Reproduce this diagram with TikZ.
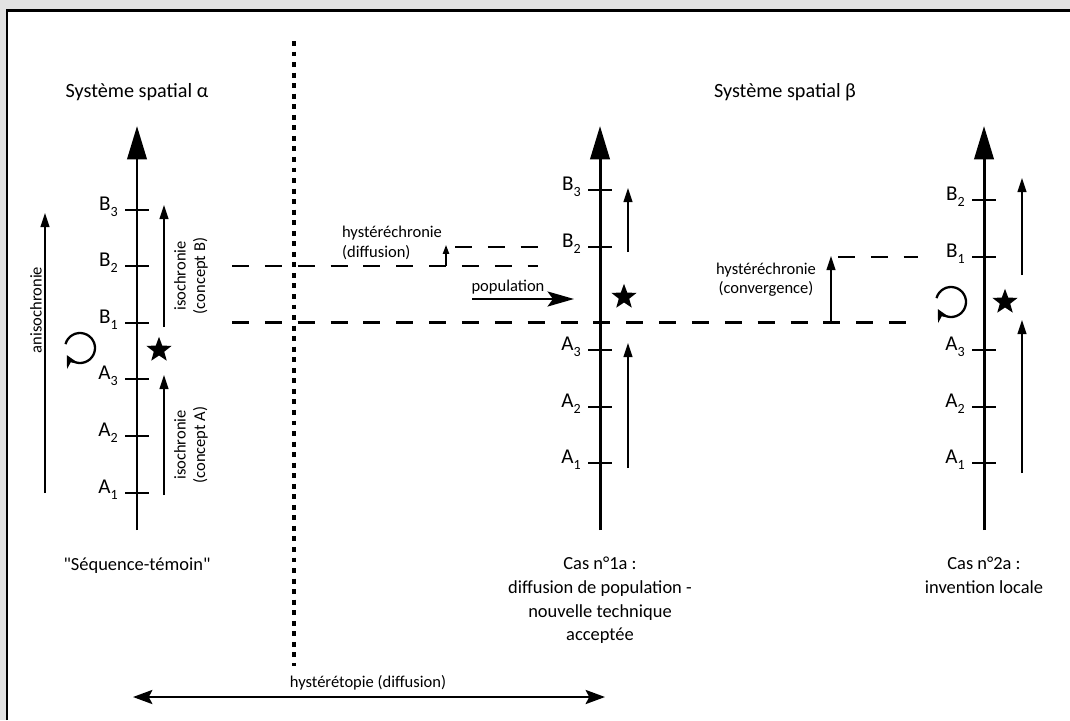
\documentclass[tikz,border=0pt]{standalone}
\usepackage{fontspec}
\setmainfont{Carlito}[Ligatures=TeXOff]
\usetikzlibrary{arrows.meta,shapes.geometric}
\definecolor{bgrey}{RGB}{226,226,226}
\newcommand{\ind}[1]{\raisebox{-3.5pt}{\fontsize{8}{9}\selectfont#1}}

\begin{document}
\begin{tikzpicture}[x=0.02cm,y=-0.02cm,
  axis/.style={line width=1.7pt,-{Triangle[length=19pt,width=11pt]}},
  tick/.style={line width=1.6pt},
  lab/.style={anchor=base east,inner sep=0pt,font=\fontsize{12}{14}\selectfont},
  thinarrow/.style={line width=1pt,-{Triangle[length=8pt,width=5pt]}},
  dashline/.style={line width=1.7pt,dash pattern=on 9.7pt off 9pt},
  note/.style={font=\fontsize{9.4}{11}\selectfont,align=center,inner sep=0pt},
  title/.style={font=\fontsize{11.5}{14}\selectfont,inner sep=0pt},
  caption/.style={font=\fontsize{10.5}{13.4}\selectfont,align=center,anchor=north,inner sep=0pt},
  etoile/.style={star,star points=5,star point ratio=2.4,fill=black,minimum size=15pt,inner sep=0pt},
  boucle/.style={line width=1.3pt,-{Stealth[length=7pt,width=7pt]}}]
\useasboundingbox (0,0) rectangle (1070,720);
% frame
\fill[bgrey] (0,0) rectangle (1070,720);
\fill[white] (7,10.5) rectangle (1070,720);
\draw[line width=1.4pt] (7,720) -- (7,10.5) -- (1070,10.5);

% titles
\node[title] (alpha) at (137,92) {Système spatial α};
\node[title] (beta) at (785,92) {Système spatial β};

% axes
\coordinate (ax1b) at (137,530); \coordinate (ax1t) at (137,126);
\coordinate (ax2b) at (600,530); \coordinate (ax2t) at (600,126);
\coordinate (ax3b) at (984,530); \coordinate (ax3t) at (984,126);
\draw[axis] (ax1b) -- (ax1t);
\draw[axis] (ax2b) -- (ax2t);
\draw[axis] (ax3b) -- (ax3t);

% ticks, sequence-temoin
\draw[tick] (125,210) -- (149,210); \node[lab] (tB3) at (118,210) {B\ind{3}};
\draw[tick] (125,266) -- (149,266); \node[lab] (tB2) at (118,266) {B\ind{2}};
\draw[tick] (125,323) -- (149,323); \node[lab] (tB1) at (118,323) {B\ind{1}};
\draw[tick] (125,379) -- (149,379); \node[lab] (tA3) at (118,379) {A\ind{3}};
\draw[tick] (125,436) -- (149,436); \node[lab] (tA2) at (118,436) {A\ind{2}};
\draw[tick] (125,493) -- (149,493); \node[lab] (tA1) at (118,493) {A\ind{1}};

% ticks, cas 1a
\draw[tick] (588,190) -- (612,190); \node[lab] (pB3) at (581,190) {B\ind{3}};
\draw[tick] (588,247) -- (612,247); \node[lab] (pB2) at (581,247) {B\ind{2}};
\draw[tick] (588,350) -- (612,350); \node[lab] (pA3) at (581,350) {A\ind{3}};
\draw[tick] (588,407) -- (612,407); \node[lab] (pA2) at (581,407) {A\ind{2}};
\draw[tick] (588,463) -- (612,463); \node[lab] (pA1) at (581,463) {A\ind{1}};

% ticks, cas 2a
\draw[tick] (972,200) -- (996,200); \node[lab] (iB2) at (965,200) {B\ind{2}};
\draw[tick] (972,257) -- (996,257); \node[lab] (iB1) at (965,257) {B\ind{1}};
\draw[tick] (972,350) -- (996,350); \node[lab] (iA3) at (965,350) {A\ind{3}};
\draw[tick] (972,407) -- (996,407); \node[lab] (iA2) at (965,407) {A\ind{2}};
\draw[tick] (972,463) -- (996,463); \node[lab] (iA1) at (965,463) {A\ind{1}};

% separation
\coordinate (sept) at (294,41); \coordinate (sepb) at (294,666);
\draw[line width=2.8pt,dash pattern=on 2.8pt off 3.2pt] (sept) -- (sepb);

% dashed levels
\coordinate (dB2a) at (232,266); \coordinate (dB2b) at (538,266);
\coordinate (dB2c) at (455,247); \coordinate (dB2d) at (538,247);
\coordinate (dB1a) at (232,322); \coordinate (dB1b) at (920,322);
\coordinate (dB1c) at (838,257); \coordinate (dB1d) at (918,257);
\draw[dashline] (dB2a) -- (dB2b);
\draw[dashline] (dB2c) -- (dB2d);
\draw[dashline] (dB1a) -- (dB1b);
\draw[dashline] (dB1c) -- (dB1d);

% sequence-temoin
\coordinate (anb) at (45,493); \coordinate (ant) at (45,213);
\draw[thinarrow] (anb) -- (ant);
\node[note,rotate=90] (aniso) at (36,310) {anisochronie};
\coordinate (isBb) at (164,327); \coordinate (isBt) at (164,205);
\draw[thinarrow] (isBb) -- (isBt);
\node[note,rotate=90] (isoB) at (191,276) {isochronie\\(concept B)};
\coordinate (isAb) at (164,495); \coordinate (isAt) at (164,375);
\draw[thinarrow] (isAb) -- (isAt);
\node[note,rotate=90] (isoA) at (191,445) {isochronie\\(concept A)};
\node[etoile] (s1) at (159,350) {};
\draw[boucle] (80,348) ++(195:15) arc[start angle=195,end angle=512,radius=15];
\node[caption] (temoin) at (137,557) {"Séquence-témoin"};

% cas 1a
\coordinate (hdb) at (446,266); \coordinate (hdt) at (446,245);
\draw[line width=0.9pt,-{Triangle[length=5pt,width=3.5pt]}] (hdb) -- (hdt);
\node[note,align=left] (hdiff) at (392,243) {hystéréchronie\\(diffusion)};
\coordinate (popa) at (472,299); \coordinate (popb) at (574,299);
\draw[line width=1.6pt,-{Stealth[length=15pt,width=8.5pt,inset=3pt]}] (popa) -- (popb);
\node[note] (pop) at (508,287) {population};
\coordinate (p1b) at (628,252); \coordinate (p1t) at (628,188);
\draw[thinarrow] (p1b) -- (p1t);
\coordinate (p2b) at (628,468); \coordinate (p2t) at (628,343);
\draw[thinarrow] (p2b) -- (p2t);
\node[etoile] (s2) at (624,297) {};
\node[caption] (cas1) at (600,557) {Cas n°1a :\\diffusion de population -\\nouvelle technique\\acceptée};

% cas 2a
\coordinate (hcb) at (831,322); \coordinate (hct) at (831,256);
\draw[thinarrow] (hcb) -- (hct);
\node[note] (hconv) at (766,280) {hystéréchronie\\(convergence)};
\coordinate (i1b) at (1022,275); \coordinate (i1t) at (1022,178);
\draw[thinarrow] (i1b) -- (i1t);
\coordinate (i2b) at (1022,473); \coordinate (i2t) at (1022,320);
\draw[thinarrow] (i2b) -- (i2t);
\node[etoile] (s3) at (1005,302) {};
\draw[boucle] (951,302) ++(195:15) arc[start angle=195,end angle=512,radius=15];
\node[caption] (cas2) at (984,557) {Cas n°2a :\\invention locale};

% hysteretopie
\coordinate (hta) at (133,697); \coordinate (htb) at (605,697);
\draw[line width=1.3pt,{Stealth[length=11pt,width=8pt,inset=2pt]}-{Stealth[length=11pt,width=8pt,inset=2pt]}] (hta) -- (htb);
\node[note] (htopie) at (368,683) {hystérétopie (diffusion)};
\end{tikzpicture}
\end{document}
